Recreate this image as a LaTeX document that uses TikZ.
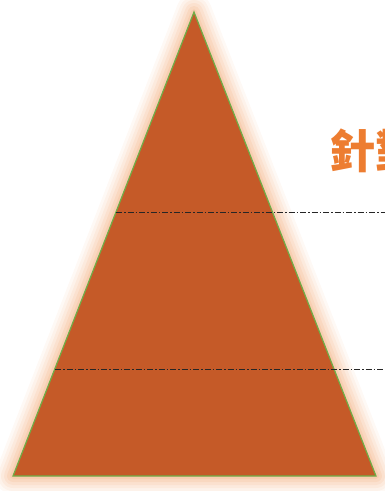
\documentclass[tikz,border=0pt]{standalone}
\usepackage{fontspec}
\newfontfamily\cjk{Noto Sans CJK TC}
\definecolor{conefill}{HTML}{C55A28}
\definecolor{coneedge}{HTML}{70AD47}
\definecolor{coneglow}{HTML}{F4B183}
\definecolor{titleorange}{HTML}{ED7D31}
\tikzset{
  glow/.style={draw=coneglow, line join=round},
  level/.style={draw=black!85, line width=0.9pt, dash pattern=on 6pt off 2pt on 1.5pt off 2pt}
}
\begin{document}
\begin{tikzpicture}[x=1pt,y=-1pt]
    \useasboundingbox (0,0) rectangle (385,491);
    \coordinate (apex) at (194,12);
    \coordinate (bl) at (13,476);
    \coordinate (br) at (376,476);
    % soft glow round the cone
    \foreach \w/\o in {36/0.08,30/0.1,24/0.12,18/0.15,12/0.2,6/0.25} {
        \draw[glow, line width=\w pt, opacity=\o] (apex) -- (bl) -- (br) -- cycle;
    }
    \filldraw[fill=conefill, draw=coneedge, line width=1.2pt, line join=miter] (apex) -- (bl) -- (br) -- cycle;
    % dividing lines
    \coordinate (cut1) at (116,212);
    \coordinate (cut2) at (55,369);
    \coordinate (end1) at (385,212);
    \coordinate (end2) at (385,369);
    \draw[level] (cut1) -- (end1);
    \draw[level] (cut2) -- (end2);
    \node[anchor=west, inner sep=0pt, text=titleorange, font={\cjk\bfseries\fontsize{46}{50}\selectfont}] (title) at (329,151) {針對};
\end{tikzpicture}
\end{document}
